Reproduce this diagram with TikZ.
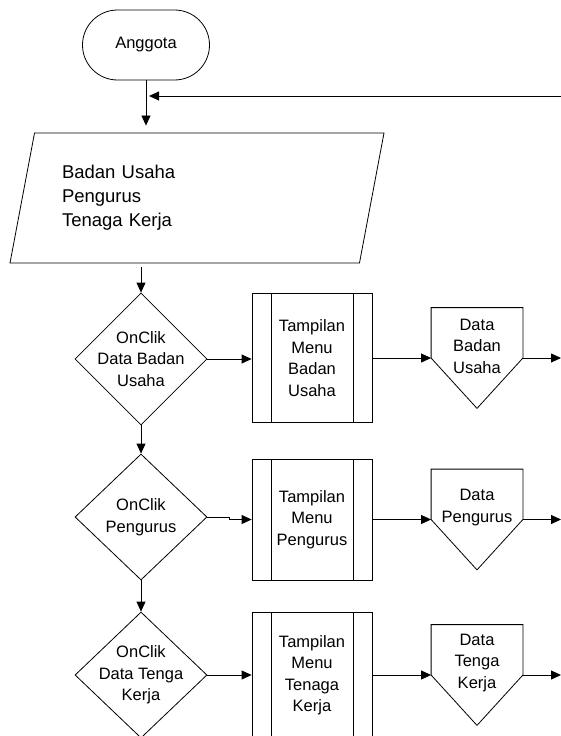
\documentclass[tikz,border=0pt]{standalone}
\usepackage{fontspec}
\setmainfont{Liberation Sans}
\usetikzlibrary{shapes,arrows.meta,positioning}

\begin{document}
\begin{tikzpicture}[
    x=1pt, y=-1pt,
    line width=0.8pt,
    >={Triangle[length=10pt,width=9pt]},
    every node/.style={
        align=center,
        font=\fontsize{16.5}{21.5}\selectfont
    },
    term/.style={
        draw, rounded corners=35pt,
        minimum width=127pt, minimum height=70pt
    },
    io/.style={
        draw, trapezium,
        trapezium left angle=70.5, trapezium right angle=109.5,
        trapezium stretches body,
        minimum width=374pt, minimum height=130pt,
        inner sep=2pt, text width=270pt, align=left,
        font=\fontsize{18.5}{24}\selectfont
    },
    decision/.style={
        draw, diamond, inner sep=0pt,
        minimum width=132pt, minimum height=126pt
    },
    menu/.style={
        draw, inner sep=0pt,
        minimum width=120pt, minimum height=126pt,
        path picture={
            \draw ([xshift=19pt]path picture bounding box.north west)
                -- ([xshift=19pt]path picture bounding box.south west);
            \draw ([xshift=-19pt]path picture bounding box.north east)
                -- ([xshift=-19pt]path picture bounding box.south east);
        }
    },
    offpage/.style={
        inner sep=0pt,
        minimum width=91pt, minimum height=100pt
    },
    offtext/.style={yshift=12pt},
    link/.style={->}
]
\useasboundingbox (0,0) rectangle (561,736);

\node[term] (anggota) at (146,45) {Anggota};
\node[io] (input) at (197,198) {Badan Usaha\\Pengurus\\Tenaga Kerja};

\node[decision, minimum height=132pt,
    label={center:OnClik\\Data Badan\\Usaha}] (klik1) at (141,359) {};
\node[decision, label={center:OnClik\\Pengurus}] (klik2) at (141,517) {};
\node[decision, label={center:OnClik\\Data Tenga\\Kerja}] (klik3) at (141,675) {};

\node[menu, minimum height=129pt] (menu1) at (312,358) {Tampilan\\Menu\\Badan\\Usaha};
\node[menu, minimum height=121pt] (menu2) at (312,519.5) {Tampilan\\Menu\\Pengurus};
\node[menu] (menu3) at (312,675) {Tampilan\\Menu\\Tenaga\\Kerja};

\node[offpage, label={[offtext]center:Data\\Badan\\Usaha}] (data1) at (477,358) {};
\node[offpage, label={[offtext]center:Data\\Pengurus}] (data2) at (477,519.5) {};
\node[offpage, label={[offtext]center:Data\\Tenga\\Kerja}] (data3) at (477,675) {};
\draw (data1.north west) -- (data1.north east) -- (data1.east) -- (data1.south) -- (data1.west) -- cycle;
\draw (data2.north west) -- (data2.north east) -- (data2.east) -- (data2.south) -- (data2.west) -- cycle;
\draw (data3.north west) -- (data3.north east) -- (data3.east) -- (data3.south) -- (data3.west) -- cycle;

\coordinate (balik) at (561,96);
\coordinate (keluar1) at (561,358);
\coordinate (keluar2) at (561,519.5);
\coordinate (keluar3) at (561,675);

\draw[link, shorten >=7pt] (anggota.south) -- (anggota.south |- input.north);
\draw[link, shorten >=3pt] (balik) -- (balik -| anggota.south);
\draw[link, shorten <=4pt] (klik1.north |- input.south) -- (klik1.north);
\draw[link] (klik1.south) -- (klik2.north);
\draw[link] (klik2.south) -- (klik3.north);

\draw[link] (klik1.east) -- (klik1.east -| menu1.west);
\draw[link] (klik2.east) -- ++(22,0) |- (menu2.west);
\draw[link] (klik3.east) -- (menu3.west);

\draw[link] (menu1.east) -- (data1.west);
\draw[link] (menu2.east) -- (data2.west);
\draw[link] (menu3.east) -- (data3.west);

\draw[link] (data1.east) -- (keluar1);
\draw[link] (data2.east) -- (keluar2);
\draw[link] (data3.east) -- (keluar3);
\end{tikzpicture}
\end{document}
